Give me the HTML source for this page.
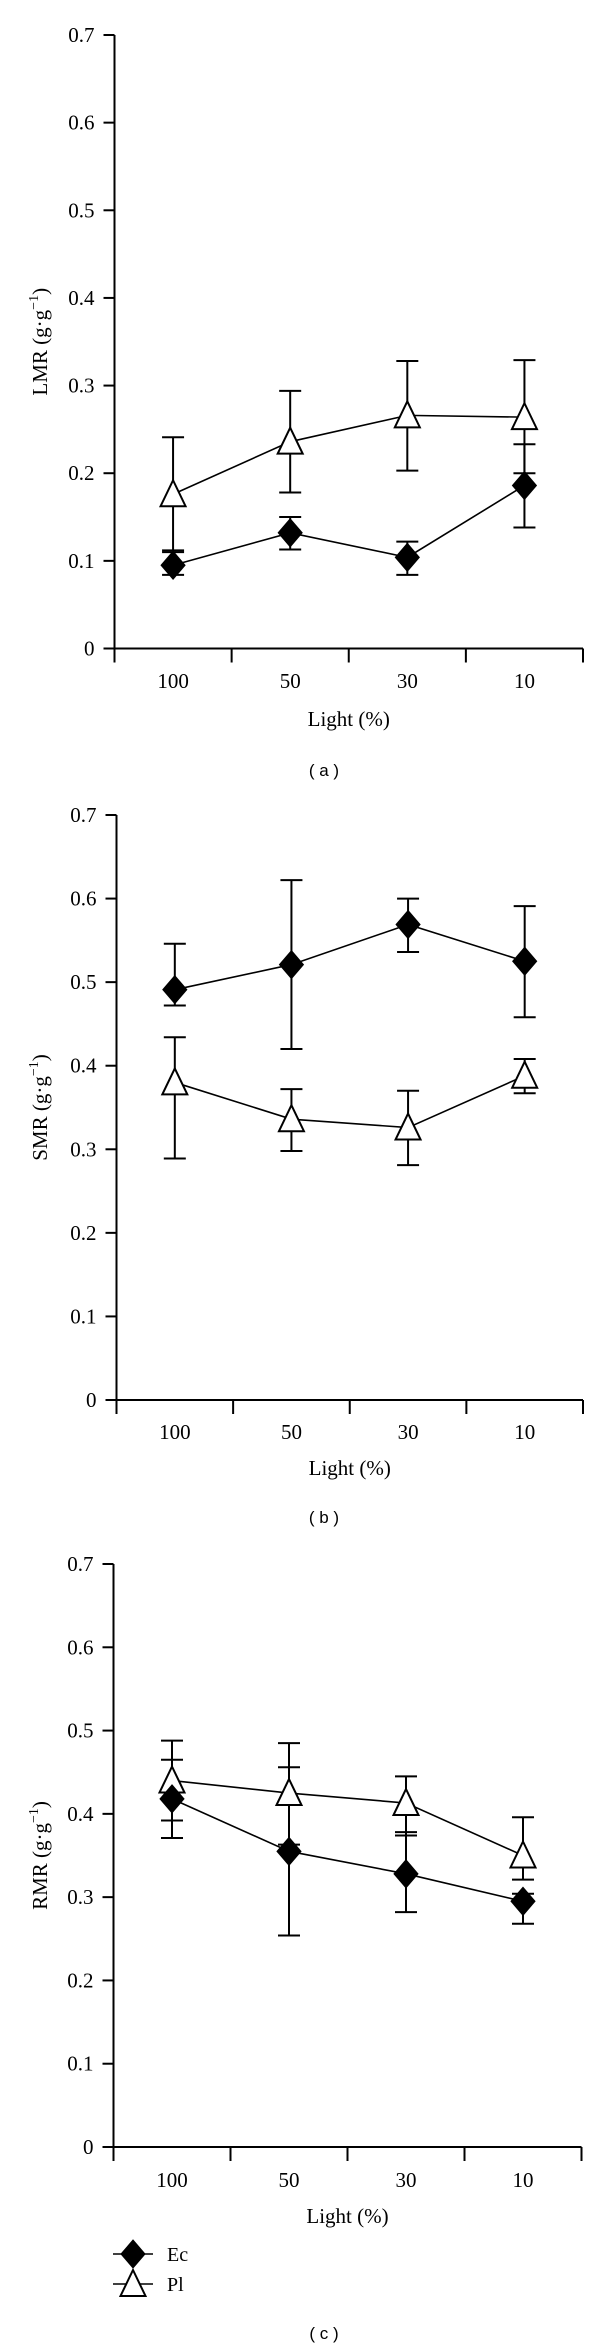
<!DOCTYPE html>
<html><head><meta charset="utf-8"><style>
html,body{margin:0;padding:0;background:#fff;}
svg{display:block;}
text{font-family:"Liberation Serif",serif;fill:#000;}
.cap{font-family:"Liberation Sans",sans-serif;font-size:17px;}
</style></head><body>
<svg id="chart" width="600" height="2346" viewBox="0 0 600 2346" xmlns="http://www.w3.org/2000/svg"></svg>
<script>
const categories = ["100","50","30","10"];
const yTicks = ["0","0.1","0.2","0.3","0.4","0.5","0.6","0.7"];
// Panel a LMR
const lmrEc = [0.095,0.132,0.104,0.186];
const lmrEcHi = [0.110,0.150,0.122,0.233];
const lmrEcLo = [0.084,0.113,0.084,0.138];
const lmrPl = [0.176,0.236,0.266,0.264];
const lmrPlHi = [0.241,0.294,0.328,0.329];
const lmrPlLo = [0.112,0.178,0.203,0.200];
// Panel b SMR
const smrEc = [0.491,0.521,0.569,0.525];
const smrEcHi = [0.546,0.622,0.600,0.591];
const smrEcLo = [0.472,0.420,0.536,0.458];
const smrPl = [0.380,0.336,0.326,0.388];
const smrPlHi = [0.434,0.372,0.370,0.408];
const smrPlLo = [0.289,0.298,0.281,0.367];
// Panel c RMR
const rmrEc = [0.418,0.355,0.328,0.295];
const rmrEcHi = [0.465,0.456,0.378,0.304];
const rmrEcLo = [0.371,0.254,0.282,0.268];
const rmrPl = [0.440,0.425,0.413,0.350];
const rmrPlHi = [0.488,0.485,0.445,0.396];
const rmrPlLo = [0.392,0.363,0.374,0.321];

const NS="http://www.w3.org/2000/svg";
const svg=document.getElementById('chart');
function mk(tag,attrs,parent){const e=document.createElementNS(NS,tag);for(const k in attrs)e.setAttribute(k,attrs[k]);(parent||svg).appendChild(e);return e;}

const panels=[
 {id:'a',title:'LMR',x0:114.5,x1:583,yTop:35,yBot:648.5,tickY:688,lightY:726,capY:776,ec:lmrEc,ecHi:lmrEcHi,ecLo:lmrEcLo,pl:lmrPl,plHi:lmrPlHi,plLo:lmrPlLo},
 {id:'b',title:'SMR',x0:116.5,x1:583,yTop:815,yBot:1400,tickY:1439,lightY:1475,capY:1523,ec:smrEc,ecHi:smrEcHi,ecLo:smrEcLo,pl:smrPl,plHi:smrPlHi,plLo:smrPlLo},
 {id:'c',title:'RMR',x0:113.5,x1:581.5,yTop:1564,yBot:2147,tickY:2187,lightY:2223,capY:2339,ec:rmrEc,ecHi:rmrEcHi,ecLo:rmrEcLo,pl:rmrPl,plHi:rmrPlHi,plLo:rmrPlLo}
];

function diamond(g,x,y,name){
  const d=mk('polygon',{points:`${x},${y-14} ${x+12},${y} ${x},${y+14} ${x-12},${y}`,fill:'#000',stroke:'#000','stroke-width':1},g);
  
  
}
function tri(g,x,y,name){
  const t=mk('polygon',{points:`${x},${y-14} ${x+12.5},${y+12} ${x-12.5},${y+12}`,fill:'#fff',stroke:'#000','stroke-width':2},g);
  
  
}

panels.forEach(p=>{
  const g=mk('g',{});
  
  
  const ys=v=>p.yBot-(v/0.7)*(p.yBot-p.yTop);
  const step=(p.x1-p.x0)/categories.length;
  const xs=i=>p.x0+step*(i+0.5);
  const ya=mk('line',{x1:p.x0,y1:p.yTop,x2:p.x0,y2:p.yBot,stroke:'#000','stroke-width':2},g);
  
  
  const xa=mk('line',{x1:p.x0,y1:p.yBot,x2:p.x1,y2:p.yBot,stroke:'#000','stroke-width':2},g);
  
  
  yTicks.forEach((t,i)=>{
    const y=ys(i*0.1);
    mk('line',{x1:p.x0-11,y1:y,x2:p.x0,y2:y,stroke:'#000','stroke-width':2},g);
    const tx=mk('text',{x:p.x0-20,y:y+7,'text-anchor':'end','font-size':21},g);
    tx.textContent=t;
    
    
  });
  for(let i=0;i<=categories.length;i++){
    const x=p.x0+step*i;
    mk('line',{x1:x,y1:p.yBot,x2:x,y2:p.yBot+14,stroke:'#000','stroke-width':2},g);
  }
  categories.forEach((c,i)=>{
    const tx=mk('text',{x:xs(i),y:p.tickY,'text-anchor':'middle','font-size':21},g);
    tx.textContent=c;
    
    
  });
  const lt=mk('text',{x:(p.x0+p.x1)/2,y:p.lightY,'text-anchor':'middle','font-size':21},g);
  lt.textContent='Light (%)';
  
  
  const yc=(p.yTop+p.yBot)/2;
  const yt=mk('text',{x:0,y:0,'text-anchor':'middle','font-size':21,transform:`translate(47,${yc}) rotate(-90)`},g);
  yt.innerHTML=p.title+' (g·g<tspan dy="-9" font-size="14">−1</tspan><tspan dy="9">)</tspan>';
  
  
  const cp=mk('text',{x:324,y:p.capY,'text-anchor':'middle',class:'cap'},g);
  cp.textContent='( '+p.id+' )';
  
  
  function errs(vals,hi,lo,name){
    vals.forEach((v,i)=>{
      const x=xs(i);
      const e=mk('path',{d:`M${x},${ys(hi[i])}V${ys(lo[i])}M${x-11},${ys(hi[i])}H${x+11}M${x-11},${ys(lo[i])}H${x+11}`,stroke:'#000','stroke-width':2,fill:'none'},g);
      
      
    });
  }
  errs(p.pl,p.plHi,p.plLo,'pl-error-bar');
  errs(p.ec,p.ecHi,p.ecLo,'ec-error-bar');
  const l1=mk('polyline',{points:p.pl.map((v,i)=>xs(i)+','+ys(v)).join(' '),fill:'none',stroke:'#000','stroke-width':1.6},g);
  
  
  const l2=mk('polyline',{points:p.ec.map((v,i)=>xs(i)+','+ys(v)).join(' '),fill:'none',stroke:'#000','stroke-width':1.6},g);
  
  
  p.pl.forEach((v,i)=>tri(g,xs(i),ys(v),'pl-point'));
  p.ec.forEach((v,i)=>diamond(g,xs(i),ys(v),'ec-point'));
});

const lg=mk('g',{});


const e1=mk('g',{},lg);


mk('line',{x1:113,y1:2254,x2:153,y2:2254,stroke:'#000','stroke-width':1.6},e1);
diamond(e1,133,2254,'legend-marker-ec');
const t1=mk('text',{x:167,y:2261,'font-size':20},e1);t1.textContent='Ec';
const e2=mk('g',{},lg);


mk('line',{x1:113,y1:2284,x2:153,y2:2284,stroke:'#000','stroke-width':1.6},e2);
tri(e2,133,2284,'legend-marker-pl');
const t2=mk('text',{x:167,y:2291,'font-size':20},e2);t2.textContent='Pl';
</script>
</body></html>
